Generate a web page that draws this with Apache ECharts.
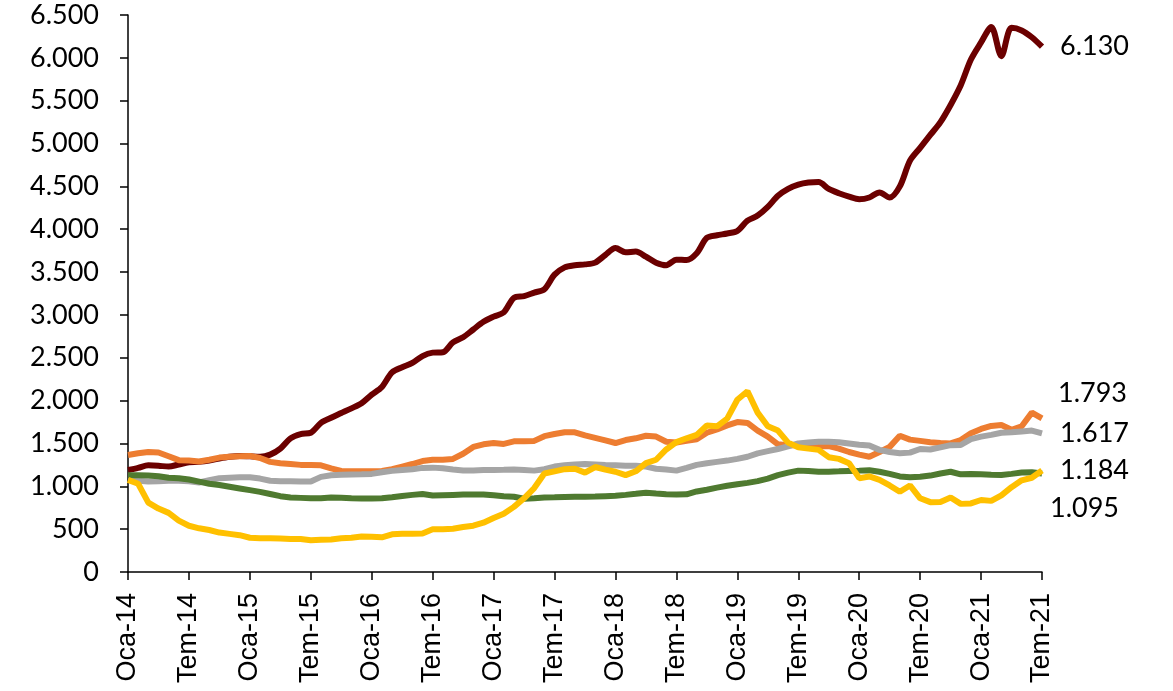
<!DOCTYPE html>
<html>
<head>
<meta charset="utf-8">
<script src="https://cdn.jsdelivr.net/npm/echarts@6/dist/echarts.min.js"></script>
<style>
  html, body { margin: 0; padding: 0; background: #fff; }
  #chart { width: 1173px; height: 691px; }
</style>
</head>
<body>
<div id="chart"></div>
<script>
// aylar: Oca-14 .. Tem-21 (aylık)
const monthNames = ["Oca", "Şub", "Mar", "Nis", "May", "Haz", "Tem", "Ağu", "Eyl", "Eki", "Kas", "Ara"];
const years = [14, 15, 16, 17, 18, 19, 20, 21];
const categories = [];
years.forEach((y) => {
  monthNames.forEach((m, i) => {
    if (y === 21 && i > 6) return;
    categories.push(m + "-" + y);
  });
});

const darkRed = [1190, 1215, 1245, 1240, 1230, 1255, 1280, 1285, 1300, 1325, 1345, 1355, 1350, 1345, 1370, 1440,
  1560, 1610, 1625, 1740, 1800, 1855, 1910, 1970, 2070, 2160, 2330, 2390, 2440, 2520, 2560, 2565, 2680, 2740,
  2830, 2920, 2980, 3030, 3200, 3220, 3260, 3300, 3470, 3555, 3580, 3590, 3610, 3700, 3780, 3730, 3740, 3680,
  3610, 3580, 3645, 3640, 3720, 3900, 3930, 3950, 3980, 4100, 4160, 4260, 4390, 4470, 4520, 4545, 4550, 4470,
  4420, 4380, 4350, 4370, 4430, 4370, 4500, 4800, 4950, 5100, 5250, 5450, 5680, 5980, 6180, 6360, 6020, 6350,
  6320, 6240, 6130];

const orange = [1365, 1385, 1400, 1395, 1350, 1305, 1300, 1290, 1310, 1335, 1345, 1350, 1355, 1330, 1285, 1270,
  1260, 1250, 1250, 1245, 1210, 1180, 1175, 1175, 1175, 1180, 1200, 1230, 1260, 1295, 1310, 1310, 1320, 1380,
  1460, 1490, 1505, 1495, 1525, 1525, 1530, 1585, 1610, 1630, 1630, 1595, 1565, 1535, 1505, 1540, 1560, 1590,
  1580, 1520, 1510, 1530, 1550, 1625, 1665, 1710, 1750, 1740, 1650, 1580, 1490, 1480, 1480, 1470, 1465, 1470,
  1440, 1400, 1370, 1345, 1400, 1460, 1590, 1545, 1530, 1515, 1505, 1500, 1540, 1620, 1670, 1705, 1715, 1660,
  1700, 1860, 1793];

const gray = [1075, 1065, 1055, 1060, 1065, 1065, 1060, 1045, 1070, 1095, 1100, 1105, 1105, 1090, 1065, 1060,
  1058, 1055, 1055, 1110, 1130, 1135, 1138, 1140, 1145, 1165, 1180, 1190, 1200, 1215, 1218, 1210, 1195, 1185,
  1185, 1190, 1190, 1192, 1195, 1190, 1183, 1200, 1230, 1245, 1255, 1260, 1255, 1248, 1245, 1240, 1240, 1230,
  1205, 1195, 1183, 1215, 1250, 1270, 1285, 1300, 1320, 1345, 1385, 1410, 1435, 1465, 1500, 1510, 1520, 1520,
  1515, 1500, 1485, 1475, 1425, 1400, 1385, 1393, 1435, 1430, 1455, 1480, 1482, 1550, 1580, 1600, 1625, 1630,
  1640, 1650, 1617];

const yellow = [1075, 1030, 810, 740, 690, 600, 540, 510, 490, 460, 445, 430, 400, 395, 393, 390, 385, 385, 370,
  375, 380, 393, 400, 415, 410, 405, 440, 445, 445, 450, 498, 500, 505, 525, 540, 575, 630, 680, 760, 860, 980,
  1150, 1175, 1200, 1205, 1160, 1225, 1195, 1170, 1130, 1175, 1270, 1310, 1430, 1515, 1560, 1600, 1710, 1700,
  1790, 2010, 2110, 1860, 1700, 1650, 1510, 1455, 1440, 1425, 1340, 1320, 1270, 1095, 1115, 1075, 1010, 937,
  1010, 860, 815, 818, 870, 795, 800, 840, 830, 895, 990, 1070, 1100, 1184];

const green = [1130, 1128, 1125, 1118, 1100, 1095, 1080, 1055, 1030, 1015, 995, 975, 955, 935, 910, 885, 870, 865,
  860, 862, 870, 866, 860, 858, 858, 860, 872, 887, 900, 910, 893, 897, 900, 903, 905, 905, 895, 885, 878, 855,
  862, 870, 872, 875, 877, 877, 880, 885, 890, 900, 912, 926, 915, 907, 905, 907, 940, 960, 985, 1007, 1025,
  1040, 1060, 1090, 1130, 1160, 1183, 1178, 1171, 1171, 1175, 1180, 1183, 1188, 1170, 1145, 1115, 1105, 1112,
  1125, 1150, 1170, 1140, 1145, 1140, 1135, 1132, 1145, 1160, 1165, 1150];

// son değer etiketleri (grafikte yazan)
const lastLabels = ["6.130", "1.793", "1.617", "1.095", "1.184"];

const fmt = (v) => String(v).replace(/\B(?=(\d{3})+(?!\d))/g, ".");

const labelFont = { fontFamily: "Lato, 'Open Sans', sans-serif", fontSize: 27, color: "#000" };

const makeSeries = (data, color, idx, offset, smooth) => ({
  type: "line",
  data: data,
  symbol: "none",
  smooth: smooth,
  lineStyle: { color: color, width: 6 },
  itemStyle: { color: color },
  endLabel: {
    show: true,
    formatter: () => lastLabels[idx],
    distance: 18,
    offset: offset,
    align: "left",
    verticalAlign: "middle",
    ...labelFont,
  },
});

const chart = echarts.init(document.getElementById("chart"));
chart.setOption({
  animation: false,
  backgroundColor: "#fff",
  grid: { left: 128, right: 131, top: 15, bottom: 119 },
  xAxis: {
    type: "category",
    boundaryGap: false,
    data: categories,
    axisLine: { lineStyle: { color: "#000", width: 1.5 } },
    axisTick: { show: true, interval: 5, length: 8, lineStyle: { color: "#000", width: 1.5 } },
    axisLabel: {
      interval: 5,
      rotate: 90,
      margin: 21,
      color: "#000",
      fontFamily: "'Liberation Sans', Arial, sans-serif",
      fontSize: 27,
    },
    splitLine: { show: false },
  },
  yAxis: {
    type: "value",
    min: 0,
    max: 6500,
    interval: 500,
    axisLine: { show: true, lineStyle: { color: "#000", width: 1.5 } },
    axisTick: { show: true, length: 8, lineStyle: { color: "#000", width: 1.5 } },
    axisLabel: { margin: 29, formatter: fmt, ...labelFont },
    splitLine: { show: false },
  },
  series: [
    makeSeries(darkRed, "#6B0000", 0, [0, 0], 0.3),
    makeSeries(orange, "#ED7D31", 1, [-2, -25], false),
    makeSeries(gray, "#A5A5A5", 2, [0, 0], false),
    makeSeries(green, "#4F7A30", 3, [-10, 35], false),
    makeSeries(yellow, "#FFC000", 4, [0, 0], false),
  ],
});
</script>
</body>
</html>
